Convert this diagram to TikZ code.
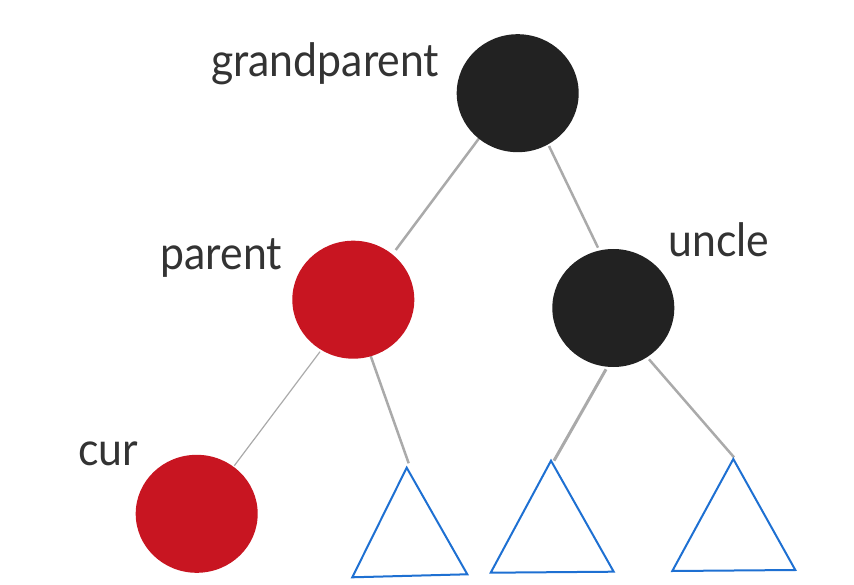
\documentclass[tikz,border=0pt]{standalone}
\usepackage{fontspec}
\setmainfont{Lato}[FakeStretch=0.93]
\usetikzlibrary{shapes.geometric}
\definecolor{nodeblack}{RGB}{34,34,34}
\definecolor{nodered}{RGB}{200,21,33}
\definecolor{edgegray}{RGB}{170,170,170}
\definecolor{triblue}{RGB}{30,112,210}
\definecolor{labelgray}{RGB}{51,51,51}
\pgfdeclarelayer{bg}
\pgfsetlayers{bg,main}
\tikzset{
  rbnode/.style={ellipse, minimum width=122pt, minimum height=118pt, inner sep=0pt, draw=none},
  blacknode/.style={rbnode, fill=nodeblack},
  rednode/.style={rbnode, fill=nodered},
  edge/.style={draw=edgegray, line width=2.5pt},
  thinedge/.style={draw=edgegray, line width=1.2pt},
  subtree/.style={draw=triblue, line width=2pt},
  lbl/.style={font=\fontsize{46}{50}\selectfont, text=labelgray, anchor=base west, inner sep=0pt}
}
\begin{document}
\begin{tikzpicture}[x=1pt,y=-1pt]
\useasboundingbox (0,0) rectangle (854,585);
% nodes
\node[blacknode] (gp) at (517.7,93.2) {};
\node[rednode] (parent) at (353.3,299.7) {};
\node[blacknode] (uncle) at (613.3,308) {};
\node[rednode] (cur) at (196.7,513.8) {};
% labels
\node[lbl] (lgp) at (211,76.7) {grandparent};
\node[lbl] (lparent) at (160.5,270) {parent};
\node[lbl] (luncle) at (668.5,256.7) {uncle};
\node[lbl] (lcur) at (78,465) {cur};
% subtrees
\coordinate (t1) at (406.7,467.7);
\coordinate (t1r) at (467.3,574.3);
\coordinate (t1l) at (352.3,577.3);
\coordinate (t2) at (551,460.7);
\coordinate (t2r) at (613.7,571.7);
\coordinate (t2l) at (490.7,572.7);
\coordinate (t3) at (733.3,459);
\coordinate (t3r) at (795.3,570);
\coordinate (t3l) at (672.3,571);
\draw[subtree] (t1) -- (t1r) -- (t1l) -- cycle;
\draw[subtree] (t2) -- (t2r) -- (t2l) -- cycle;
\draw[subtree] (t3) -- (t3r) -- (t3l) -- cycle;
% connector end points
\coordinate (gpA) at (481,135.7);
\coordinate (parentTop) at (395.7,250);
\coordinate (gpB) at (549,146);
\coordinate (uncleTop) at (598,247.7);
\coordinate (parentA) at (320,351.7);
\coordinate (curTop) at (234.3,465.7);
\coordinate (parentB) at (370.7,356);
\coordinate (t1top) at (408.7,463.3);
\coordinate (uncleA) at (606,369.3);
\coordinate (t2top) at (554,460.7);
\coordinate (uncleB) at (649,359.3);
\coordinate (t3top) at (734,457.3);
\begin{pgfonlayer}{bg}
\draw[edge] (gpA) -- (parentTop);
\draw[edge] (gpB) -- (uncleTop);
\draw[thinedge] (parentA) -- (curTop);
\draw[edge] (parentB) -- (t1top);
\draw[edge, line width=3pt] (uncleA) -- (t2top);
\draw[edge] (uncleB) -- (t3top);
\end{pgfonlayer}
\end{tikzpicture}
\end{document}
